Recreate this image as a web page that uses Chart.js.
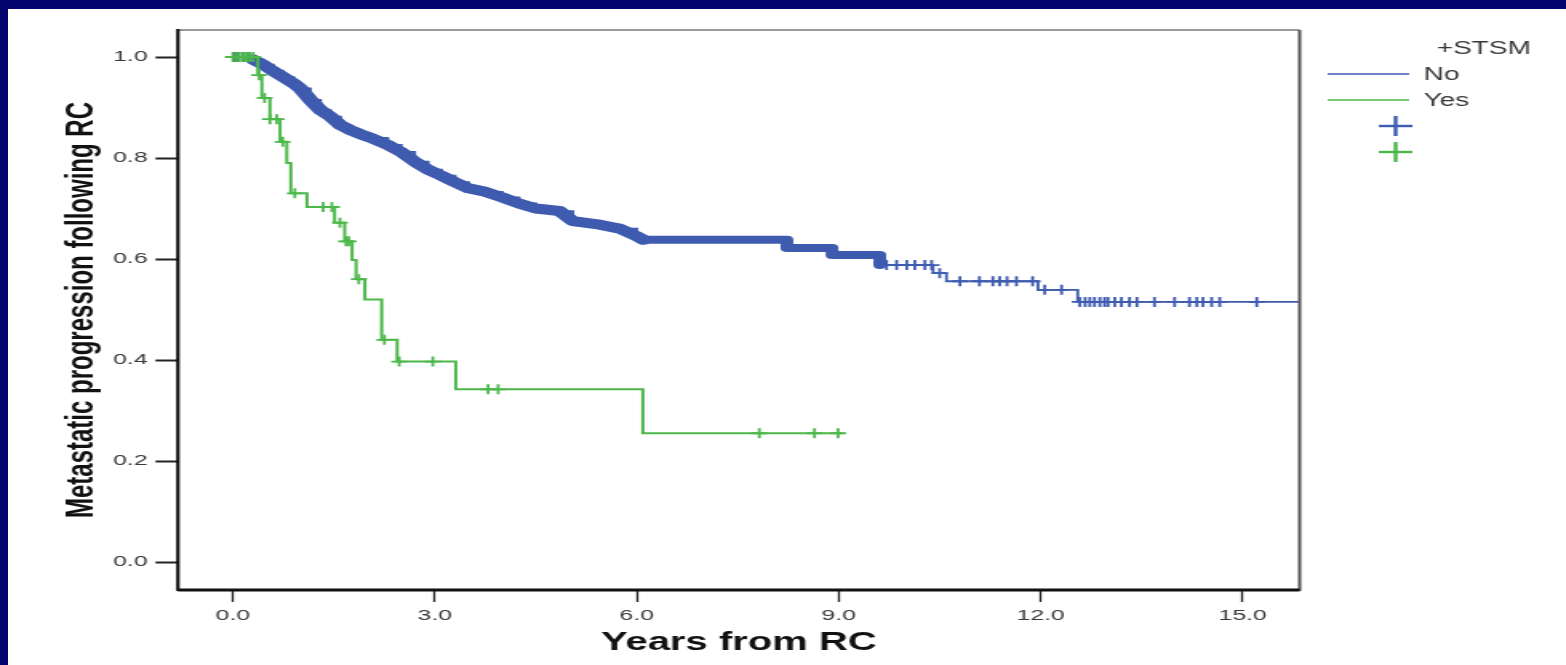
<!DOCTYPE html>
<html>
<head>
<meta charset="utf-8">
<title>Metastatic progression following RC</title>
<script src="https://cdn.jsdelivr.net/npm/chart.js@4.4.1/dist/chart.umd.min.js"></script>
<style>
  html, body { margin: 0; padding: 0; }
  body { width: 1566px; height: 665px; background: #04046e; overflow: hidden; position: relative; }
  #km { position: absolute; left: 8px; top: 9px; background: #fff; }
</style>
</head>
<body>
<!-- the slide shows the SPSS plot stretched sideways: draw narrow, widen with inline CSS size -->
<canvas id="km" width="974" height="656" style="width:1558px;height:656px;"></canvas>
<script>
"use strict";

// ── Data ─────────────────────────────────────────────────────────────────────
const GROUPS       = ["No", "Yes"];
const LEGEND_TITLE = "+STSM";
const X_TITLE      = "Years from RC";
const Y_TITLE      = "Metastatic progression following RC";
const X_TICKS      = [0, 3, 6, 9, 12, 15];
const Y_TICKS      = [0, 0.2, 0.4, 0.6, 0.8, 1.0];

// "No" group: step times and survival after each step
const BLUE_T = [0, 0.3, 0.45, 0.6, 0.75, 0.9, 1.0, 1.15, 1.3, 1.45, 1.6, 1.75, 1.9,
                2.05, 2.3, 2.5, 2.7, 2.9, 3.1, 3.3, 3.5, 3.75, 4.0, 4.25, 4.5, 4.85,
                5.05, 5.45, 5.75, 6.0, 6.1, 8.23, 8.9, 9.61, 10.4, 10.6, 11.96, 12.55, 16.0];
const BLUE_S = [1.0, 0.995, 0.985, 0.972, 0.96, 0.948, 0.938, 0.915, 0.895, 0.882, 0.865, 0.855, 0.847,
                0.84, 0.826, 0.812, 0.793, 0.777, 0.765, 0.752, 0.74, 0.733, 0.722, 0.71, 0.70, 0.695,
                0.675, 0.668, 0.66, 0.645, 0.638, 0.622, 0.608, 0.588, 0.572, 0.556, 0.539, 0.515, 0.515];
// censored cases that stand apart (the rest merge into a solid band)
const BLUE_CENSOR_T = [0.02, 0.08, 0.15, 0.22,
                       9.71, 9.86, 10.01, 10.13, 10.28, 10.38, 10.5,
                       10.8, 11.09, 11.29, 11.39, 11.5, 11.64, 11.88, 12.06, 12.31,
                       12.58, 12.66, 12.73, 12.8, 12.88, 12.95, 13.0, 13.1, 13.2, 13.32, 13.43,
                       13.69, 13.99, 14.21, 14.32, 14.41, 14.54, 14.66, 15.21];
// span where censor marks overlap into a band; smooth up to the 6-year plateau
const BLUE_BAND = [0.3, 6.1, 9.61];

// "Yes" group
const GREEN_T = [0, 0.37, 0.43, 0.55, 0.70, 0.80, 0.86, 1.10, 1.51, 1.66, 1.77, 1.83,
                 1.96, 2.21, 2.44, 3.31, 6.09, 9.06];
const GREEN_S = [1.0, 0.964, 0.919, 0.877, 0.832, 0.79, 0.73, 0.703, 0.672, 0.635, 0.598, 0.56,
                 0.52, 0.44, 0.397, 0.342, 0.255, 0.255];
const GREEN_CENSOR_T = [0.0, 0.05, 0.1, 0.15, 0.2, 0.25, 0.3, 0.39, 0.47, 0.55, 0.65, 0.74,
                        0.92, 1.34, 1.47, 1.59, 1.68, 1.72, 1.87, 2.25, 2.47, 2.97,
                        3.79, 3.94, 7.82, 8.64, 8.99];

// ── Style ────────────────────────────────────────────────────────────────────
const CLR = { blue: "#3e5bb0", green: "#4cb84a", tick: "#383838", title: "#111" };
const FONT = "'Liberation Sans', Arial, Helvetica, sans-serif";

// ── Helpers ──────────────────────────────────────────────────────────────────
function toPoints(ts, ss) {
  return ts.map((t, i) => ({ x: t, y: ss[i] }));
}

// survival value of a step curve at time t (value after the last step <= t)
function survAt(ts, ss, t) {
  let s = ss[0];
  for (let i = 0; i < ts.length; i++) if (ts[i] <= t) s = ss[i];
  return s;
}

function censorPoints(ts, ss, cts) {
  return cts.map(t => ({ x: t, y: survAt(ts, ss, t) }));
}

function seg(ctx, x1, y1, x2, y2, color, w) {
  ctx.beginPath();
  ctx.strokeStyle = color;
  ctx.lineWidth = w;
  ctx.moveTo(x1, y1);
  ctx.lineTo(x2, y2);
  ctx.stroke();
}

// ── Plot frame (SPSS box) ────────────────────────────────────────────────────
const framePlugin = {
  id: "frame",
  afterDatasetsDraw(chart) {
    const { ctx, chartArea: a } = chart;
    ctx.save();
    seg(ctx, a.left, a.top, a.right, a.top, "#9a9a9a", 2);
    seg(ctx, a.right, a.top, a.right, a.bottom + 1, "#555", 2);
    seg(ctx, a.left, a.top - 1, a.left, a.bottom + 1, "#111", 2.2);
    seg(ctx, a.left, a.bottom, a.right, a.bottom, "#111", 3);
    ctx.restore();
  },
};

// ── Legend in the SPSS layout (title, lines, then censor marks) ──────────────
const legendPlugin = {
  id: "spssLegend",
  afterDraw(chart) {
    const ctx = chart.ctx;
    const colors = [CLR.blue, CLR.green];
    ctx.save();
    ctx.fillStyle = CLR.tick;
    ctx.font = `17.5px ${FONT}`;
    ctx.textBaseline = "middle";
    ctx.textAlign = "right";
    ctx.fillText(LEGEND_TITLE, 952, 40);
    ctx.textAlign = "left";
    GROUPS.forEach((g, i) => {
      const y = 65 + i * 26;
      seg(ctx, 825, y, 876, y, colors[i], 1.6);
      ctx.fillText(g, 885, y + 1);
    });
    GROUPS.forEach((g, i) => {
      const y = 117 + i * 26;
      seg(ctx, 857, y, 878, y, colors[i], 2.4);
      seg(ctx, 867.5, y - 10, 867.5, y + 10, colors[i], 2.4);
    });
    ctx.restore();
  },
};

// ── Chart ────────────────────────────────────────────────────────────────────
const bluePts    = toPoints(BLUE_T, BLUE_S);
const bandSmooth = bluePts.filter(p => p.x >= BLUE_BAND[0] && p.x <= BLUE_BAND[1]);
const bandSteps  = bluePts.filter(p => p.x >= BLUE_BAND[1] && p.x <= BLUE_BAND[2]);

const bandStyle = {
  borderColor: CLR.blue,
  borderJoinStyle: "round",
  borderCapStyle: "round",
  pointRadius: 0,
  order: 3,
};

const ctx = document.getElementById("km").getContext("2d");

new Chart(ctx, {
  type: "line",
  data: {
    datasets: [
      {
        label: GROUPS[1] + " censored",
        data: censorPoints(GREEN_T, GREEN_S, GREEN_CENSOR_T),
        showLine: false,
        pointStyle: "cross",
        pointRadius: 5,
        pointBorderWidth: 1.8,
        pointBorderColor: CLR.green,
        order: 0,
      },
      {
        label: GROUPS[1],
        data: toPoints(GREEN_T, GREEN_S),
        stepped: "before",
        borderColor: CLR.green,
        borderWidth: 2,
        pointRadius: 0,
        order: 1,
      },
      {
        label: GROUPS[0] + " censored",
        data: censorPoints(BLUE_T, BLUE_S, BLUE_CENSOR_T),
        showLine: false,
        pointStyle: "cross",
        pointRadius: 5,
        pointBorderWidth: 1.8,
        pointBorderColor: CLR.blue,
        order: 2,
      },
      // dense censor marks read as one thick band in the picture
      { label: GROUPS[0] + " band", data: bandSmooth, stepped: false, borderWidth: 10, ...bandStyle },
      { label: GROUPS[0] + " band 2", data: bandSteps, stepped: "before", borderWidth: 8, ...bandStyle },
      {
        label: GROUPS[0],
        data: bluePts,
        stepped: "before",
        borderColor: CLR.blue,
        borderWidth: 1.8,
        pointRadius: 0,
        order: 4,
      },
    ],
  },
  options: {
    responsive: false,
    animation: false,
    events: [],
    layout: { padding: { left: 0, top: 21, right: 166.5, bottom: 0 } },
    plugins: { legend: { display: false }, tooltip: { enabled: false } },
    elements: { line: { tension: 0 } },
    scales: {
      x: {
        type: "linear",
        min: -0.817,
        max: 15.847,
        afterBuildTicks: s => { s.ticks = X_TICKS.map(v => ({ value: v })); },
        afterFit: s => { s.height = 75; },
        border: { display: false },
        grid: { drawOnChartArea: false, drawTicks: true, tickLength: 12, tickColor: "#222", tickWidth: 1.3 },
        ticks: {
          color: CLR.tick, padding: 4, maxRotation: 0, autoSkip: false,
          font: { family: FONT, size: 15.5 },
          callback: v => Number(v).toFixed(1),
        },
        title: {
          display: true, text: X_TITLE, color: CLR.title,
          font: { family: FONT, size: 25, weight: "bold" },
          padding: { top: 0, bottom: 7 },
        },
      },
      y: {
        min: -0.0554,
        max: 1.0535,
        afterBuildTicks: s => { s.ticks = Y_TICKS.map(v => ({ value: v })); },
        afterFit: s => { s.width = 106.25; },
        border: { display: false },
        grid: { drawOnChartArea: false, drawTicks: true, tickLength: 14, tickColor: "#222", tickWidth: 2 },
        ticks: {
          color: CLR.tick, padding: 5, autoSkip: false,
          font: { family: FONT, size: 15.5 },
          callback: v => Number(v).toFixed(1),
        },
        title: {
          display: true, text: Y_TITLE, color: CLR.title,
          font: { family: FONT, size: 24, weight: "bold" },
          padding: { top: 32, bottom: 0 },
        },
      },
    },
  },
  plugins: [framePlugin, legendPlugin],
});
</script>
</body>
</html>
